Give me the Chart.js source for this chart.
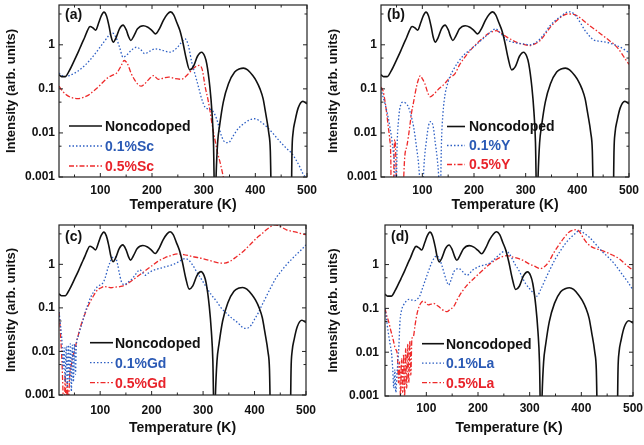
<!DOCTYPE html>
<html>
<head>
<meta charset="utf-8">
<script src="https://cdn.jsdelivr.net/npm/chart.js@4.4.1/dist/chart.umd.min.js"></script>
<style>
  body { margin: 0; background: #fff; }
  canvas { position: absolute; }
</style>
</head>
<body>
<canvas id="chartA" width="322" height="222" style="left:0;top:0"></canvas>
<canvas id="chartB" width="322" height="222" style="left:322px;top:0"></canvas>
<canvas id="chartC" width="322" height="223" style="left:0;top:222px"></canvas>
<canvas id="chartD" width="322" height="223" style="left:322px;top:222px"></canvas>
<script>
// tick labels
var xTicks = [100, 200, 300, 400, 500]
var xMinor = [50, 150, 250, 350, 450]
var yTicks = [0.001, 0.01, 0.1, 1]
var yMinor = [0.005, 0.05, 0.5, 5]

// noncodoped reference, same in every panel
var nonT = [20,25,32,40,51,58,64,70,75,80,86,91,97,102,107,112,117,121,125,130,137,144,150,155,159,165,172,183,192,200,207,215,222,230,236,242,248,254,260,266,273,280,288,296,302,306,312,316,319,322,324,327,331,338,348,360,370,377,385,395,402,409,415,420,426,429,432,469,471,473,477,483,492,500]
var nonI = [0.21,0.19,0.19,0.26,0.48,0.72,1.05,1.5,2.1,2.6,2.4,2.15,3.2,4.6,5.5,4.5,2.6,1.5,1.15,1.4,2.3,2.8,2.2,1.5,1.25,1.6,2.3,2.7,2.5,2.1,1.77,2.4,3.6,5.0,5.6,4.8,3.2,2.1,1.1,0.5,0.27,0.32,0.55,0.68,0.55,0.37,0.11,0.03,0.006,0.0001,0.001,0.006,0.015,0.05,0.13,0.24,0.285,0.295,0.27,0.2,0.15,0.1,0.06,0.028,0.01,0.004,0.0001,0.0001,0.004,0.01,0.019,0.037,0.052,0.046]

// (a) Sc
var scT = [20,30,40,51,60,70,80,90,100,109,116,123,130,137,144,152,160,170,178,186,196,206,220,235,248,256,264,270,277,284,290,296,303,310,316,325,335,341,348,357,367,380,390,399,410,422,435,448,460,470,480,486,492,497]
var scI = [0.23,0.19,0.2,0.23,0.27,0.34,0.45,0.63,0.9,1.25,1.6,1.86,1.5,0.9,0.52,0.6,0.75,0.88,0.78,0.63,0.72,0.81,0.75,0.68,0.85,1.1,1.36,1.0,0.4,0.2,0.11,0.06,0.038,0.035,0.033,0.021,0.0082,0.0062,0.006,0.0085,0.0126,0.017,0.02,0.021,0.018,0.0138,0.0095,0.0063,0.0045,0.0035,0.0023,0.0017,0.0012,0.001]
var sc5T = [20,27,35,45,57,67,77,86,96,106,116,124,132,140,146,152,160,167,173,179,186,195,203,212,222,232,245,257,267,276,283,291,297,303,308,312,317,322,327,332,338,345]
var sc5I = [0.115,0.088,0.072,0.063,0.06,0.064,0.072,0.088,0.11,0.145,0.185,0.205,0.23,0.33,0.44,0.38,0.22,0.156,0.125,0.115,0.13,0.17,0.2,0.165,0.175,0.185,0.17,0.165,0.2,0.26,0.31,0.34,0.28,0.11,0.06,0.033,0.014,0.0069,0.0035,0.0021,0.001,0.0004]

// (b) Y
var yT = [20,24,28,33,37,41,44,47,49,51,54,58,63,68,73,78,83,89,93,96,98,101,104,107,112,116,121,125,129,132,134,137,140,144,148,153,160,169,180,195,208,221,232,242,250,257,263,272,283,295,308,318,328,338,347,358,370,378,385,392,399,407,415,423,431,444,457,467,476,488,500]
var yI = [0.1,0.065,0.045,0.025,0.014,0.007,0.0035,0.0012,0.0001,0.004,0.02,0.043,0.05,0.047,0.039,0.025,0.014,0.0045,0.0018,0.0005,0.0001,0.0006,0.0025,0.0055,0.0145,0.018,0.014,0.006,0.0025,0.0008,0.0001,0.006,0.028,0.075,0.12,0.186,0.27,0.4,0.58,0.81,1.1,1.5,1.95,2.3,1.9,1.55,1.3,1.18,1.09,1.05,1.0,1.1,1.36,1.9,2.7,3.6,4.6,5.4,5.6,5.2,4.2,3.0,2.1,1.6,1.3,1.2,1.14,1.05,0.96,0.82,0.66]
var y5T = [20,24,28,31,34,37,39,40,44,45,47,49,51,62,64,66,70,73,76,79,83,86,90,93,96,100,105,110,115,122,130,143,153,163,172,182,195,208,218,227,236,243,250,260,270,283,296,308,318,328,340,350,362,372,380,390,399,410,424,437,450,460,470,478,486,493,500]
var y5I = [0.11,0.09,0.05,0.028,0.014,0.007,0.0025,0.0001,0.0001,0.002,0.007,0.002,0.0001,0.0002,0.001,0.0029,0.005,0.0082,0.015,0.028,0.05,0.078,0.13,0.17,0.2,0.17,0.13,0.085,0.066,0.075,0.095,0.13,0.18,0.22,0.35,0.52,0.8,1.14,1.45,1.77,2.0,2.1,1.9,1.6,1.35,1.14,1.02,0.96,1.05,1.25,1.9,2.7,3.7,4.6,5.0,5.0,4.6,3.7,2.7,2.1,1.6,1.3,1.05,0.85,0.63,0.47,0.36]

// (c) Gd
var gdT = [20,23,26,28,30,32,34,36,38,40,42,44,46,48,50,52,54,56,61,66,71,76,81,86,95,105,110,115,119,123,129,134,137,141,147,153,160,167,173,177,182,187,193,199,208,218,230,241,251,258,265,272,280,287,297,307,316,326,335,345,356,368,375,381,388,394,400,407,415,423,432,442,452,462,472,481,490,500]
var gdI = [0.08,0.04,0.015,0.004,0.012,0.002,0.013,0.0015,0.014,0.002,0.015,0.0012,0.014,0.002,0.015,0.003,0.016,0.02,0.032,0.049,0.08,0.118,0.17,0.22,0.31,0.37,0.5,0.82,1.1,1.4,1.5,0.98,0.65,0.41,0.34,0.38,0.44,0.55,0.69,0.75,0.66,0.56,0.62,0.69,0.76,0.82,0.9,0.98,1.12,1.25,1.35,1.25,0.95,0.69,0.45,0.29,0.2,0.142,0.1,0.076,0.058,0.045,0.037,0.034,0.035,0.041,0.055,0.076,0.12,0.184,0.3,0.49,0.7,0.98,1.3,1.67,2.1,2.8]
var gd5T = [20,22,24,26,28,30,32,34,36,38,41,44,47,50,53,58,63,69,76,81,86,95,102,108,115,121,130,140,150,160,173,186,199,212,225,238,251,262,280,294,306,320,332,342,352,365,378,391,404,414,423,431,439,446,454,462,471,481,490,500]
var gd5I = [0.08,0.04,0.015,0.005,0.001,0.0002,0.003,0.0003,0.002,0.0006,0.003,0.005,0.008,0.01,0.0145,0.025,0.041,0.065,0.108,0.14,0.18,0.26,0.29,0.31,0.3,0.29,0.3,0.31,0.34,0.41,0.53,0.69,0.9,1.17,1.4,1.6,1.73,1.68,1.5,1.4,1.28,1.16,1.07,1.07,1.17,1.5,1.98,2.8,4.0,5.0,6.2,7.3,8.2,7.8,7.0,6.2,5.8,5.5,5.1,4.8]

// (d) La
var laT = [20,23,26,30,33,35,37,39,41,43,45,47,49,52,56,61,66,72,78,83,88,93,98,104,111,116,120,125,130,135,140,143,148,153,158,162,166,170,175,179,184,189,195,201,211,221,231,240,248,254,260,266,272,279,286,292,300,308,314,322,331,340,350,360,369,379,389,396,405,415,428,441,454,466,478,490,500]
var laI = [0.1,0.055,0.03,0.015,0.0087,0.004,0.0015,0.004,0.0012,0.003,0.006,0.015,0.05,0.09,0.12,0.145,0.16,0.155,0.15,0.165,0.2,0.3,0.44,0.7,1.15,1.45,1.6,1.35,0.97,0.6,0.4,0.34,0.45,0.68,0.78,0.81,0.78,0.7,0.6,0.57,0.63,0.74,0.82,0.89,0.97,1.05,1.3,1.63,1.95,2.1,1.8,1.37,1.0,0.74,0.5,0.37,0.28,0.22,0.19,0.28,0.48,0.8,1.37,2.1,3.0,4.1,5.2,6.0,5.2,4.25,2.9,1.94,1.4,0.97,0.62,0.4,0.26]
var la5T = [20,23,27,31,36,40,44,46,48,50,52,54,56,58,60,62,64,66,68,70,72,75,78,82,86,90,94,99,104,109,114,119,124,130,135,140,146,153,160,169,180,195,208,220,233,246,256,266,279,290,298,309,321,329,337,346,356,366,376,384,390,397,404,411,421,434,447,460,473,486,500]
var la5I = [0.1,0.07,0.05,0.032,0.019,0.012,0.0087,0.002,0.006,0.001,0.007,0.0012,0.009,0.001,0.012,0.0015,0.015,0.002,0.018,0.003,0.02,0.023,0.04,0.075,0.11,0.135,0.147,0.135,0.12,0.125,0.13,0.12,0.11,0.095,0.088,0.084,0.095,0.11,0.16,0.24,0.35,0.52,0.72,0.97,1.25,1.5,1.6,1.5,1.37,1.2,1.05,0.92,0.81,0.9,1.15,1.8,2.75,4.0,5.5,6.1,6.3,5.5,4.0,3.1,2.5,2.2,1.94,1.65,1.37,1.0,0.74]

var FONT = "'Liberation Sans', Arial, sans-serif"
Chart.defaults.font.family = FONT
Chart.defaults.color = '#111'

var BLACK = '#111', BLUE = '#2d5fc4', RED = '#ee2a2a'

function pts(t, v) {
  return t.map(function (x, i) { return { x: x, y: v[i] } })
}

// frame, inward ticks, panel tag and the legend inside the plot
var frame = {
  id: 'frame',
  afterDraw: function (chart, args, o) {
    var ctx = chart.ctx, a = chart.chartArea
    var sx = chart.scales.x, sy = chart.scales.y
    ctx.save()
    ctx.strokeStyle = '#222'
    ctx.lineWidth = 1.2
    ctx.strokeRect(a.left, a.top, a.right - a.left, a.bottom - a.top)
    ctx.lineWidth = 1
    ctx.beginPath()
    xTicks.concat(xMinor).forEach(function (v) {
      var p = sx.getPixelForValue(v), n = xMinor.indexOf(v) < 0 ? 4 : 2.5
      ctx.moveTo(p, a.bottom); ctx.lineTo(p, a.bottom - n)
      ctx.moveTo(p, a.top); ctx.lineTo(p, a.top + n)
    })
    yTicks.concat(yMinor).forEach(function (v) {
      var p = sy.getPixelForValue(v), n = yMinor.indexOf(v) < 0 ? 4 : 2.5
      ctx.moveTo(a.left, p); ctx.lineTo(a.left + n, p)
      ctx.moveTo(a.right, p); ctx.lineTo(a.right - n, p)
    })
    ctx.stroke()

    ctx.font = 'bold 14px ' + FONT
    ctx.textBaseline = 'middle'
    ctx.fillStyle = '#111'
    ctx.fillText(o.tag, a.left + 6, 15)

    var txt = ['#111', '#2a5ab5', '#e8232a']
    chart.data.datasets.forEach(function (d, i) {
      var y = o.y + i * o.dy
      ctx.setLineDash(d.borderDash || [])
      ctx.strokeStyle = d.borderColor
      ctx.lineWidth = d.borderWidth
      ctx.beginPath(); ctx.moveTo(o.x, y); ctx.lineTo(o.x + o.len, y); ctx.stroke()
      ctx.setLineDash([])
      ctx.fillStyle = txt[i]
      ctx.fillText(d.label, o.tx, y + 1)
    })
    ctx.restore()
  }
}

function makeChart(id, names, blueSet, redSet, box, leg) {
  var el = document.getElementById(id).getContext('2d')
  return new Chart(el, {
    type: 'line',
    data: {
      datasets: [
        { label: names[0], data: pts(nonT, nonI), borderColor: BLACK, borderWidth: 1.6 },
        { label: names[1], data: blueSet, borderColor: BLUE, borderWidth: 1.3, borderDash: [1.5, 2] },
        { label: names[2], data: redSet, borderColor: RED, borderWidth: 1.3, borderDash: [5, 2, 1.5, 2] },
      ],
    },
    options: {
      responsive: false,
      animation: false,
      layout: { padding: { left: 0, top: box.top, right: box.w - box.right, bottom: 0 } },
      elements: { point: { radius: 0 }, line: { cubicInterpolationMode: 'monotone' } },
      plugins: { legend: { display: false }, tooltip: { enabled: false }, frame: leg },
      scales: {
        x: {
          type: 'linear', min: 20, max: 500,
          afterBuildTicks: function (s) { s.ticks = xTicks.map(function (v) { return { value: v } }) },
          afterFit: function (s) {
            s.height = box.h - box.bottom
            s.paddingLeft = 0; s.paddingRight = 0
          },
          grid: { display: false, drawTicks: false },
          border: { display: false },
          ticks: { padding: box.xPad, maxRotation: 0, font: { size: 12, weight: 'bold' } },
          title: { display: true, text: 'Temperature (K)', padding: { top: 0, bottom: 8 }, font: { size: 14, weight: 'bold' } },
        },
        y: {
          type: 'logarithmic', min: 0.001, max: 8,
          afterBuildTicks: function (s) { s.ticks = yTicks.map(function (v) { return { value: v } }) },
          afterFit: function (s) {
            s.width = box.left
            s.paddingTop = 0; s.paddingBottom = 0
          },
          grid: { display: false, drawTicks: false },
          border: { display: false },
          ticks: { padding: box.yPad, font: { size: 12, weight: 'bold' }, callback: function (v) { return String(v) } },
          title: { display: true, text: 'Intensity (arb. units)', padding: { top: 4, bottom: 0 }, font: { size: 13, weight: 'bold' } },
        },
      },
    },
    plugins: [frame],
  })
}

makeChart('chartA', ['Noncodoped', '0.1%Sc', '0.5%Sc'], pts(scT, scI), pts(sc5T, sc5I),
  { w: 322, h: 222, left: 59, right: 307, top: 5, bottom: 177, xPad: 6, yPad: 4 },
  { tag: '(a)', x: 69, y: 126, len: 33, tx: 105, dy: 20 })

makeChart('chartB', ['Noncodoped', '0.1%Y', '0.5%Y'], pts(yT, yI), pts(y5T, y5I),
  { w: 322, h: 222, left: 59, right: 307, top: 5, bottom: 177, xPad: 6, yPad: 4 },
  { tag: '(b)', x: 125, y: 126.5, len: 18, tx: 147, dy: 19 })

makeChart('chartC', ['Noncodoped', '0.1%Gd', '0.5%Gd'], pts(gdT, gdI), pts(gd5T, gd5I),
  { w: 322, h: 223, left: 59, right: 306, top: 3, bottom: 173, xPad: 8, yPad: 4 },
  { tag: '(c)', x: 90, y: 120.7, len: 23, tx: 115, dy: 20 })

makeChart('chartD', ['Noncodoped', '0.1%La', '0.5%La'], pts(laT, laI), pts(la5T, la5I),
  { w: 322, h: 223, left: 63, right: 311, top: 3, bottom: 174, xPad: 5, yPad: 6 },
  { tag: '(d)', x: 100, y: 121.7, len: 22, tx: 124, dy: 19.5 })
</script>
</body>
</html>
